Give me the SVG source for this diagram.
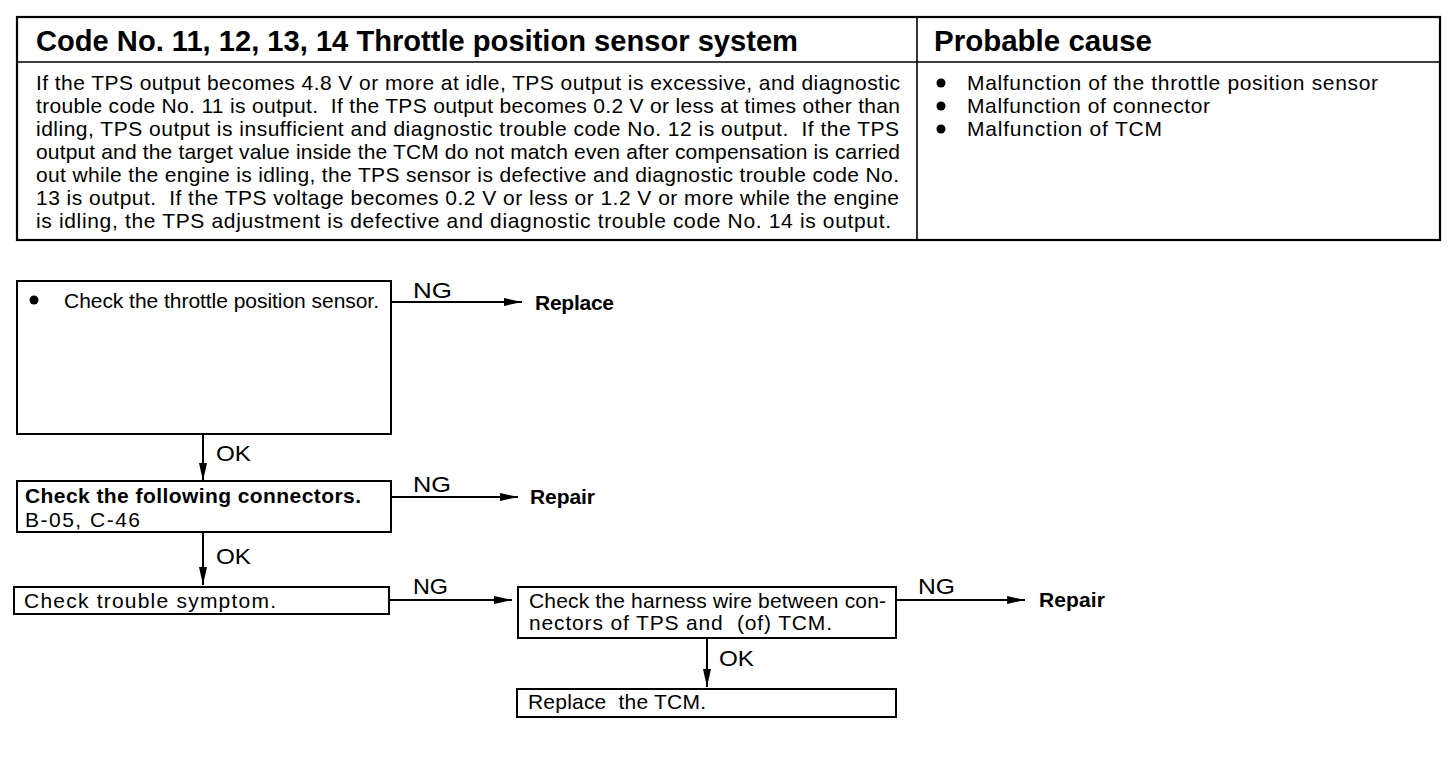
<svg xmlns="http://www.w3.org/2000/svg" width="1456" height="768" viewBox="0 0 1456 768">
<style>
text{font-family:"Liberation Sans",Arial,sans-serif;fill:#000;}
.h{font-size:29px;font-weight:bold;}
.b{font-size:21px;}
.bb{font-size:21px;font-weight:bold;}
.lbl{font-size:22px;}
.box{fill:#fff;stroke:#000;stroke-width:2;}
.ln{stroke:#000;stroke-width:1.6;fill:none;}
.conn{stroke:#000;stroke-width:2;fill:none;}
</style>
<defs>
<marker id="ah" viewBox="0 0 18 8" refX="18" refY="4" markerWidth="18" markerHeight="8" markerUnits="userSpaceOnUse" orient="auto">
<path d="M0,0 L18,4 L0,8 Z" fill="#000"/>
</marker>
</defs>
<rect width="1456" height="768" fill="#fff"/>

<g id="table">
<rect x="17" y="17" width="1423" height="223" fill="none" stroke="#000" stroke-width="2.2"/>
<line class="ln" x1="17" y1="62" x2="1440" y2="62"/>
<line class="ln" x1="917" y1="17" x2="917" y2="240"/>
<text class="h" x="36" y="51" textLength="762" lengthAdjust="spacingAndGlyphs">Code No. 11, 12, 13, 14 Throttle position sensor system</text>
<text class="h" x="934" y="51" textLength="218" lengthAdjust="spacingAndGlyphs">Probable cause</text>
<text class="b" x="36" y="90" textLength="864" lengthAdjust="spacing">If the TPS output becomes 4.8 V or more at idle, TPS output is excessive, and diagnostic</text>
<text class="b" x="36" y="113" textLength="864" lengthAdjust="spacing" xml:space="preserve">trouble code No. 11 is output.  If the TPS output becomes 0.2 V or less at times other than</text>
<text class="b" x="36" y="136" textLength="863" lengthAdjust="spacing" xml:space="preserve">idling, TPS output is insufficient and diagnostic trouble code No. 12 is output.  If the TPS</text>
<text class="b" x="36" y="159" textLength="864" lengthAdjust="spacing">output and the target value inside the TCM do not match even after compensation is carried</text>
<text class="b" x="36" y="182" textLength="863" lengthAdjust="spacing">out while the engine is idling, the TPS sensor is defective and diagnostic trouble code No.</text>
<text class="b" x="36" y="205" textLength="863" lengthAdjust="spacing" xml:space="preserve">13 is output.  If the TPS voltage becomes 0.2 V or less or 1.2 V or more while the engine</text>
<text class="b" x="36" y="228" textLength="855" lengthAdjust="spacing">is idling, the TPS adjustment is defective and diagnostic trouble code No. 14 is output.</text>
<circle cx="941" cy="83" r="4.5"/>
<circle cx="941" cy="106" r="4.5"/>
<circle cx="941" cy="129" r="4.5"/>
<text class="b" x="967" y="90" textLength="411" lengthAdjust="spacing">Malfunction of the throttle position sensor</text>
<text class="b" x="967" y="113" textLength="243" lengthAdjust="spacing">Malfunction of connector</text>
<text class="b" x="967" y="136" textLength="195" lengthAdjust="spacing">Malfunction of TCM</text>
</g>

<g id="n1">
<rect class="box" x="17" y="281" width="374" height="153"/>
<circle cx="34" cy="300" r="4.5"/>
<text class="b" x="64" y="308" textLength="315" lengthAdjust="spacing">Check the throttle position sensor.</text>
</g>
<g id="n1r">
<text class="bb" x="535" y="310" textLength="79" lengthAdjust="spacing">Replace</text>
</g>

<g id="n2">
<rect class="box" x="17" y="481" width="374" height="51"/>
<text class="bb" x="25" y="503" textLength="336" lengthAdjust="spacing">Check the following connectors.</text>
<text class="b" x="25" y="527" textLength="115" lengthAdjust="spacing">B-05, C-46</text>
</g>
<g id="n2r">
<text class="bb" x="530" y="504" textLength="65" lengthAdjust="spacing">Repair</text>
</g>

<g id="n3">
<rect class="box" x="14" y="587" width="375" height="27"/>
<text class="b" x="24" y="608" textLength="252" lengthAdjust="spacing">Check trouble symptom.</text>
</g>

<g id="n4">
<rect class="box" x="518" y="587" width="378" height="51"/>
<text class="b" x="529" y="608" textLength="357" lengthAdjust="spacing">Check the harness wire between con-</text>
<text class="b" x="529" y="630" textLength="303" lengthAdjust="spacing" xml:space="preserve">nectors of TPS and  (of) TCM.</text>
</g>
<g id="n4r">
<text class="bb" x="1039" y="607" textLength="66" lengthAdjust="spacing">Repair</text>
</g>

<g id="n5">
<rect class="box" x="517" y="689" width="379" height="28"/>
<text class="b" x="528" y="709" textLength="178" lengthAdjust="spacing" xml:space="preserve">Replace  the TCM.</text>
</g>

<g id="connectors">
<line class="conn" x1="391" y1="302" x2="522" y2="302" marker-end="url(#ah)"/>
<text class="lbl" x="413" y="298" textLength="39" lengthAdjust="spacingAndGlyphs">NG</text>
<line class="conn" x1="203" y1="434" x2="203" y2="481" marker-end="url(#ah)"/>
<text class="lbl" x="216" y="461" textLength="35" lengthAdjust="spacingAndGlyphs">OK</text>

<line class="conn" x1="391" y1="497" x2="518" y2="497" marker-end="url(#ah)"/>
<text class="lbl" x="413" y="492" textLength="38" lengthAdjust="spacingAndGlyphs">NG</text>
<line class="conn" x1="203" y1="532" x2="203" y2="585" marker-end="url(#ah)"/>
<text class="lbl" x="216" y="564" textLength="35" lengthAdjust="spacingAndGlyphs">OK</text>

<line class="conn" x1="389" y1="600" x2="512" y2="600" marker-end="url(#ah)"/>
<text class="lbl" x="413" y="594" textLength="35" lengthAdjust="spacingAndGlyphs">NG</text>

<line class="conn" x1="896" y1="600" x2="1025" y2="600" marker-end="url(#ah)"/>
<text class="lbl" x="918" y="594" textLength="37" lengthAdjust="spacingAndGlyphs">NG</text>
<line class="conn" x1="707" y1="638" x2="707" y2="687" marker-end="url(#ah)"/>
<text class="lbl" x="719" y="666" textLength="35" lengthAdjust="spacingAndGlyphs">OK</text>
</g>
</svg>
